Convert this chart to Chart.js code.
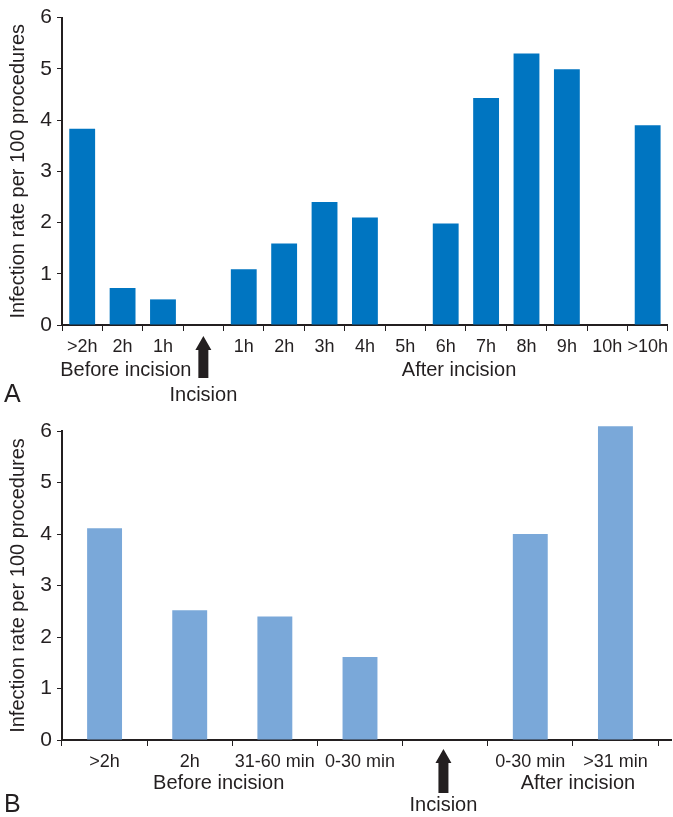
<!DOCTYPE html>
<html>
<head>
<meta charset="utf-8">
<script src="https://cdn.jsdelivr.net/npm/chart.js@4.4.1/dist/chart.umd.min.js"></script>
<style>
  body { margin: 0; background: #fff; }
  canvas { display: block; }
</style>
</head>
<body>
<canvas id="chartA" width="673" height="408"></canvas>
<canvas id="chartB" width="673" height="409"></canvas>
<script>
// ---------------- data ----------------
var labelsA = [">2h", "2h", "1h", "", "1h", "2h", "3h", "4h", "5h", "6h", "7h", "8h", "9h", "10h", ">10h"];
var ratesA = [3.83, 0.72, 0.50, null, 1.09, 1.59, 2.40, 2.10, 0, 1.98, 4.43, 5.30, 4.99, 0, 3.90];

var labelsB = [">2h", "2h", "31-60 min", "0-30 min", "", "0-30 min", ">31 min"];
var ratesB = [4.11, 2.52, 2.40, 1.61, null, 4.00, 6.09];

var yMin = 0, yMax = 6, yStep = 1;
var yTitle = "Infection rate per 100 procedures";

var INK = "#231f20";
var FONT = "'Liberation Sans', Arial, Helvetica, sans-serif";
Chart.defaults.font.family = FONT;
Chart.defaults.color = INK;

// draws the group captions, the incision arrow and the panel letter
var annotate = {
    id: "annotate",
    afterDraw: function (chart, args, o) {
        var ctx = chart.ctx;
        var x = chart.scales.x;
        var b = chart.chartArea.bottom;
        ctx.save();
        ctx.fillStyle = INK;
        ctx.strokeStyle = INK;

        // x axis line running past the last tick
        if (o.extendTo) {
            ctx.lineWidth = 2;
            ctx.beginPath();
            ctx.moveTo(chart.chartArea.right - 1, b);
            ctx.lineTo(o.extendTo, b);
            ctx.stroke();
        }

        ctx.textAlign = "center";
        ctx.textBaseline = "middle";
        ctx.font = "20px " + FONT;
        o.groups.forEach(function (g) {
            ctx.fillText(g.text, x.getPixelForValue(g.at), b + o.groupDy);
        });

        // arrow
        var ax = x.getPixelForValue(o.arrowAt);
        ctx.beginPath();
        ctx.moveTo(ax, b + o.arrow[0]);
        ctx.lineTo(ax + 8, b + o.arrow[1]);
        ctx.lineTo(ax + 5, b + o.arrow[1]);
        ctx.lineTo(ax + 5, b + o.arrow[2]);
        ctx.lineTo(ax - 5, b + o.arrow[2]);
        ctx.lineTo(ax - 5, b + o.arrow[1]);
        ctx.lineTo(ax - 8, b + o.arrow[1]);
        ctx.closePath();
        ctx.fill();
        ctx.fillText("Incision", ax, b + o.incisionDy);

        // panel letter
        ctx.textAlign = "left";
        ctx.font = "25px " + FONT;
        ctx.fillText(o.letter, 4, b + o.letterDy);
        ctx.restore();
    }
};

function makeChart(id, labels, values, color, barPct, layout, notes) {
    return new Chart(document.getElementById(id), {
        type: "bar",
        data: {
            labels: labels,
            datasets: [{
                data: values,
                backgroundColor: color,
                borderWidth: 0,
                categoryPercentage: 1,
                barPercentage: barPct,
                clip: false
            }]
        },
        options: {
            responsive: false,
            animation: false,
            layout: { padding: layout.padding },
            plugins: {
                legend: { display: false },
                tooltip: { enabled: false },
                annotate: notes
            },
            scales: {
                x: {
                    afterFit: function (s) { s.height = layout.xHeight; },
                    grid: {
                        offset: true,
                        drawOnChartArea: false,
                        tickLength: 6,
                        color: INK,
                        lineWidth: 1
                    },
                    border: { display: true, color: INK, width: 2 },
                    ticks: {
                        autoSkip: false,
                        maxRotation: 0,
                        padding: 5,
                        color: INK,
                        font: { size: 18 }
                    }
                },
                y: {
                    min: yMin,
                    max: yMax,
                    afterFit: function (s) { s.width = 62; },
                    grid: {
                        drawOnChartArea: false,
                        tickLength: 5,
                        color: INK,
                        lineWidth: 1
                    },
                    border: { display: true, color: INK, width: 2 },
                    ticks: {
                        stepSize: yStep,
                        padding: 5,
                        color: INK,
                        font: { size: 21 }
                    },
                    title: {
                        display: true,
                        text: yTitle,
                        color: INK,
                        font: { size: 20 },
                        padding: { top: 6, bottom: 0 }
                    }
                }
            }
        },
        plugins: [annotate]
    });
}

// ---------------- panel A ----------------
makeChart("chartA", labelsA, ratesA, "#0075c1", 0.64,
    { padding: { left: 0, right: 2, top: 16, bottom: 0 }, xHeight: 83 },
    {
        groups: [{ text: "Before incision", at: 1.08 }, { text: "After incision", at: 9.33 }],
        groupDy: 45,
        arrowAt: 3,
        arrow: [11, 25, 53],
        incisionDy: 70,
        letter: "A",
        letterDy: 70
    });

// ---------------- panel B ----------------
makeChart("chartB", labelsB, ratesB, "#7aa8d9", 0.41,
    { padding: { left: 0, right: 15, top: 23, bottom: 0 }, xHeight: 77 },
    {
        extendTo: 672,
        groups: [{ text: "Before incision", at: 1.34 }, { text: "After incision", at: 5.56 }],
        groupDy: 43,
        arrowAt: 3.98,
        arrow: [9, 23, 53],
        incisionDy: 65,
        letter: "B",
        letterDy: 65
    });
</script>
</body>
</html>
